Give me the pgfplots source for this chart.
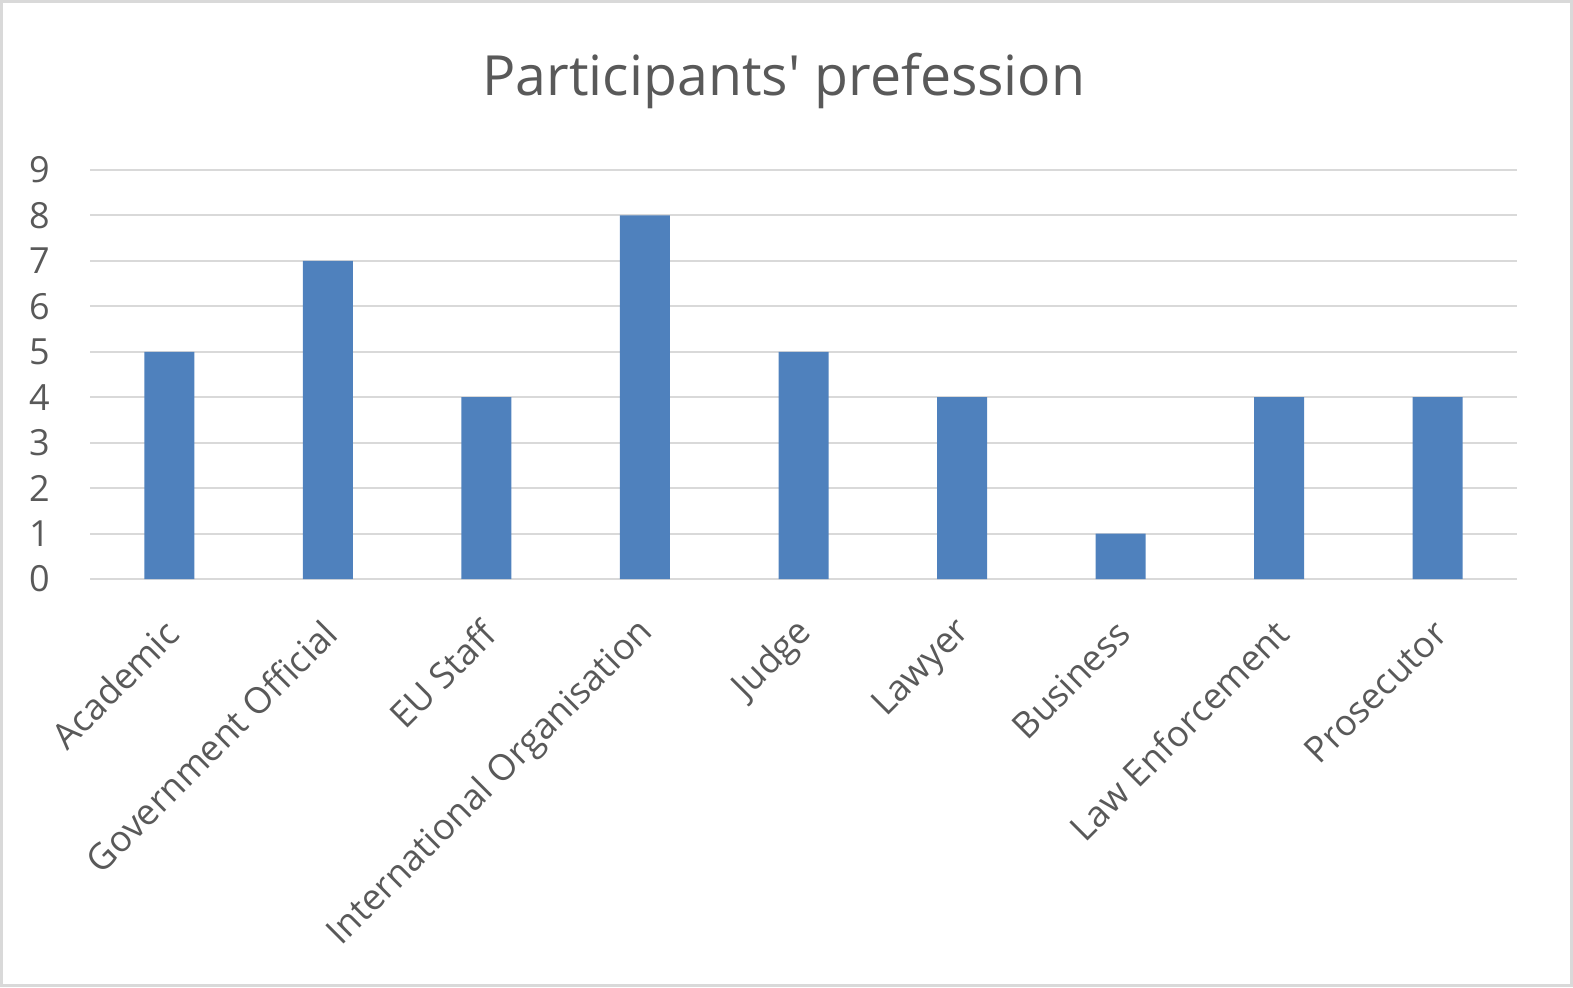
\documentclass[border=0pt]{standalone}
\usepackage{fontspec}
\setmainfont{Open Sans}
\usepackage{pgfplots}
\pgfplotsset{compat=1.18}
\definecolor{barblue}{HTML}{4F81BD}
\definecolor{txtgray}{HTML}{595959}
\definecolor{gridgray}{HTML}{D9D9D9}
\begin{document}
\begin{tikzpicture}
\useasboundingbox (0,0) rectangle (786.5pt,493.5pt);
\draw[gridgray, line width=1.5pt] (0.75pt,0.75pt) rectangle (785.75pt,492.75pt);
\node[text=txtgray, font=\fontsize{27.7}{33}\selectfont] at (392pt,453pt) {Participants\textquotesingle\ prefession};
\begin{axis}[
  at={(45pt,204pt)}, anchor=south west,
  scale only axis, width=713.5pt, height=204.5pt,
  ybar, bar width=25pt,
  xmin=-0.5, xmax=8.5, ymin=0, ymax=9,
  xtick={0,...,8},
  xticklabels={Academic, Government Official, EU Staff, International Organisation, Judge, Lawyer, Business, Law Enforcement, Prosecutor},
  ytick={0,...,9},
  axis line style={draw=none},
  major tick length=0pt,
  ymajorgrids, grid style={gridgray, line width=1pt},
  ticklabel style={font=\fontsize{18}{21.5}\selectfont, text=txtgray},
  /pgf/number format/assume math mode=true,
  yticklabel style={anchor=east, inner sep=0pt, xshift=-20pt},
  xticklabel style={xshift=1.5pt, yshift=-24pt, rotate=45, anchor=east, inner sep=0pt},
]
\addplot[draw=none, fill=barblue] coordinates {(0,5) (1,7) (2,4) (3,8) (4,5) (5,4) (6,1) (7,4) (8,4)};
\end{axis}
\end{tikzpicture}
\end{document}
